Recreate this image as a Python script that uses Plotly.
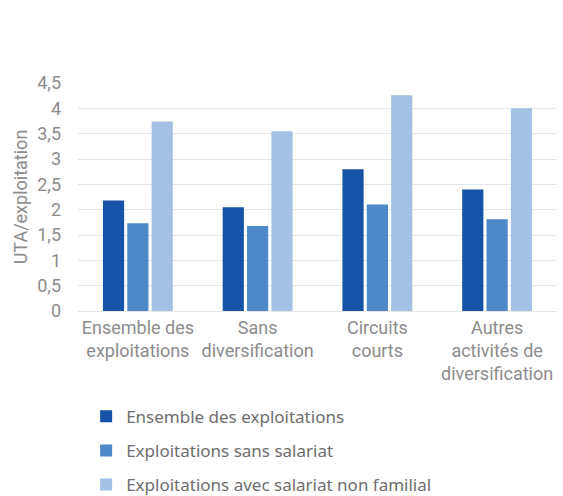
import plotly.graph_objects as go

categories = ["Ensemble des<br>exploitations", "Sans<br>diversification", "Circuits<br>courts", "Autres<br>activités de<br>diversification"]
series_names = ["Ensemble des exploitations", "Exploitations sans salariat", "Exploitations avec salariat non familial"]
ensemble = [2.18, 2.05, 2.80, 2.40]
sans_salariat = [1.73, 1.68, 2.10, 1.81]
avec_salariat = [3.74, 3.55, 4.26, 4.00]
y_ticks = [0, 0.5, 1, 1.5, 2, 2.5, 3, 3.5, 4, 4.5]
y_tick_labels = ["0", "0,5", "1", "1,5", "2", "2,5", "3", "3,5", "4", "4,5"]

colors = ["#1652a8", "#4d89c8", "#a3c2e3"]
values = [ensemble, sans_salariat, avec_salariat]

fig = go.Figure()
for i, (name, vals) in enumerate(zip(series_names, values)):
    fig.add_trace(go.Bar(x=categories, y=vals, name=name, marker_color=colors[i],
                         marker_line_width=0, legendgroup=f"g{i}"))

fig.update_layout(
    width=563, height=496,
    margin=dict(l=78, r=6, t=83, b=185, autoexpand=False),
    plot_bgcolor="white", paper_bgcolor="white",
    barmode="group", bargap=0.39, bargroupgap=0.13,
    font=dict(family="Roboto", color="#8c8c8c", size=18),
    showlegend=True,
    legend=dict(orientation="v", x=0.017, xanchor="left", y=-0.385, yanchor="top",
                traceorder="grouped", tracegroupgap=9, maxheight=1,
                font=dict(family="Noto Sans", size=17, color="#6e6e6e"),
                itemwidth=30, bgcolor="rgba(0,0,0,0)"),
)
fig.update_yaxes(range=[0, 4.5], tickvals=y_ticks, ticktext=y_tick_labels,
                 showgrid=True, gridcolor="#e6e6e6", gridwidth=1, zeroline=False,
                 showline=False, ticks="", ticklen=0, ticklabelstandoff=16,
                 title=dict(text="UTA/exploitation", font=dict(size=18, color="#8c8c8c"), standoff=4),
                 tickfont=dict(size=18, color="#8c8c8c"))
fig.update_xaxes(showgrid=False, showline=True, linecolor="#e6e6e6", ticks="",
                 tickfont=dict(size=18, color="#8c8c8c"), tickangle=0)

fig.write_html("out.html", config={"displayModeBar": False},
               post_script="document.body.style.margin='0';document.body.style.overflow='hidden';")
